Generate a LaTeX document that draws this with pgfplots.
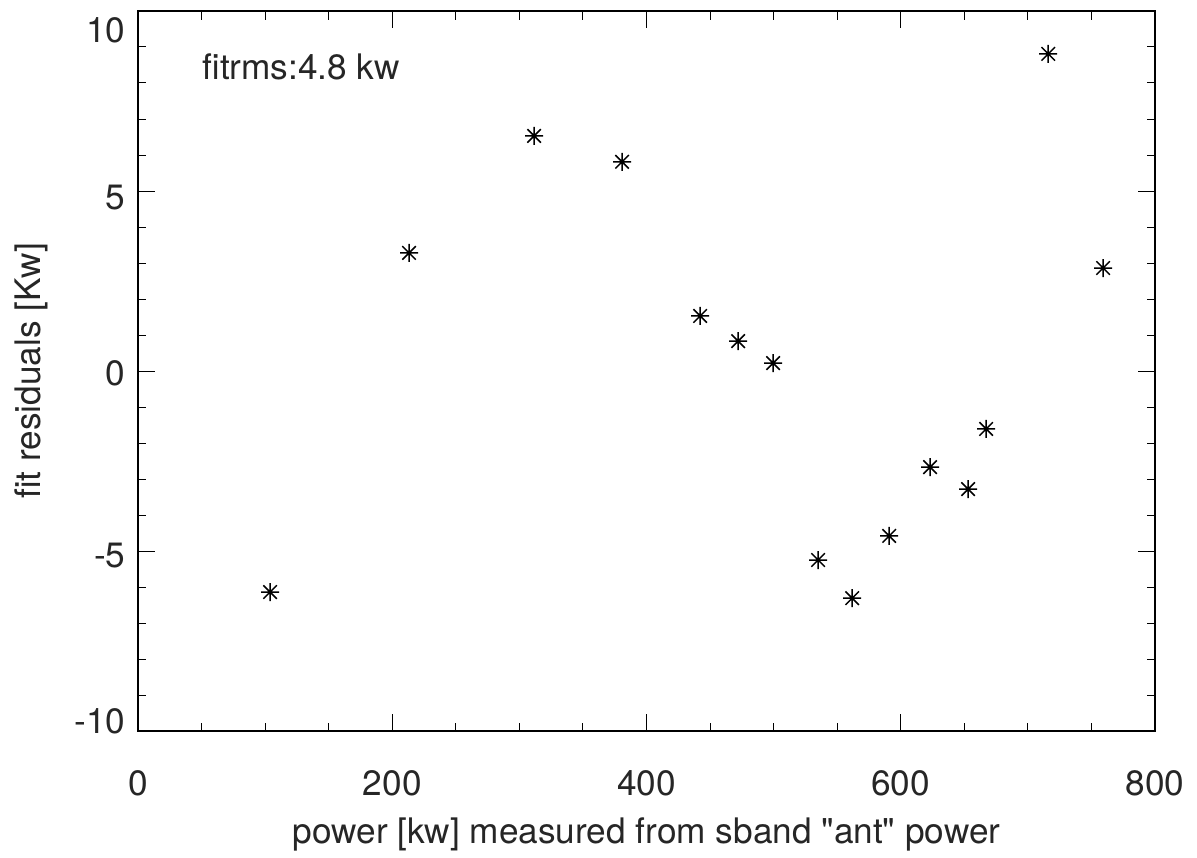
\documentclass[border=0pt]{standalone}
\usepackage{fontspec}
\setmainfont{TeX Gyre Heros}
\newfontfamily\plainfont{TeX Gyre Heros}[Ligatures=TeXOff]
\usepackage{pgfplots}
\pgfplotsset{compat=1.18}
\pgfdeclareplotmark{star8}{%
  \pgfpathmoveto{\pgfqpoint{0pt}{\pgfplotmarksize}}\pgfpathlineto{\pgfqpoint{0pt}{-\pgfplotmarksize}}%
  \pgfpathmoveto{\pgfqpoint{\pgfplotmarksize}{0pt}}\pgfpathlineto{\pgfqpoint{-\pgfplotmarksize}{0pt}}%
  \pgfpathmoveto{\pgfqpoint{0.75\pgfplotmarksize}{0.75\pgfplotmarksize}}\pgfpathlineto{\pgfqpoint{-0.75\pgfplotmarksize}{-0.75\pgfplotmarksize}}%
  \pgfpathmoveto{\pgfqpoint{-0.75\pgfplotmarksize}{0.75\pgfplotmarksize}}\pgfpathlineto{\pgfqpoint{0.75\pgfplotmarksize}{-0.75\pgfplotmarksize}}%
  \pgfusepathqstroke}
\begin{document}
\fontsize{17.6}{20}\selectfont
\begin{tikzpicture}
\begin{axis}[
  scale only axis,
  width=508.5pt, height=360pt,
  xmin=0, xmax=800, ymin=-10, ymax=10,
  xtick={0,200,400,600,800},
  ytick={-10,-5,0,5,10},
  yticklabels={{\smash{\raisebox{-1.2pt}{-10}}},{\smash{\raisebox{-8.2pt}{-5}}},{\smash{\raisebox{-7.2pt}{0}}},{\smash{\raisebox{-9.2pt}{5}}},{\smash{\raisebox{-15.7pt}{10}}}},
  minor x tick num=3, minor y tick num=4,
  tick align=inside,
  major tick length=8.5pt, minor tick length=4.25pt,
  every tick/.style={black, line width=0.5pt},
  axis line style={line width=0.75pt},
  /pgf/number format/assume math mode=true,
  xticklabel style={yshift=-13.6pt, text=black!85},
  yticklabel style={xshift=-0.2pt, text=black!85},
  xlabel={power [kw] measured from sband {\plainfont"}ant{\plainfont"} power},
  ylabel={fit residuals [Kw]},
  xlabel style={at={(axis description cs:0.5,-0.15556)}, anchor=base, text=black!85},
  ylabel style={at={(axis description cs:-0.09538,0.5)}, anchor=base, rotate=0, text=black!85},
  clip=false,
]
\addplot[only marks, mark=star8, mark size=4.5pt, mark options={line width=0.75pt}, black] coordinates {
(103.9,-6.14) (213.2,3.28) (311.6,6.53) (380.8,5.81) (442.2,1.53)
(472.1,0.83) (499.6,0.22) (535.0,-5.25) (561.8,-6.31) (590.9,-4.58)
(623.1,-2.67) (653.0,-3.28) (667.2,-1.61) (716.0,8.81) (759.2,2.86)
};
\node[anchor=base west, inner sep=0pt, text=black!85] at (axis cs:50.4,8.10) {fitrms:4.8 kw};
\coordinate (sw) at (rel axis cs:0,0);
\coordinate (ne) at (rel axis cs:1,1);
\end{axis}
\pgfresetboundingbox
\useasboundingbox ([shift={(-69pt,-63pt)}]sw) rectangle ([shift={(21pt,5.5pt)}]ne);
\end{tikzpicture}
\end{document}
